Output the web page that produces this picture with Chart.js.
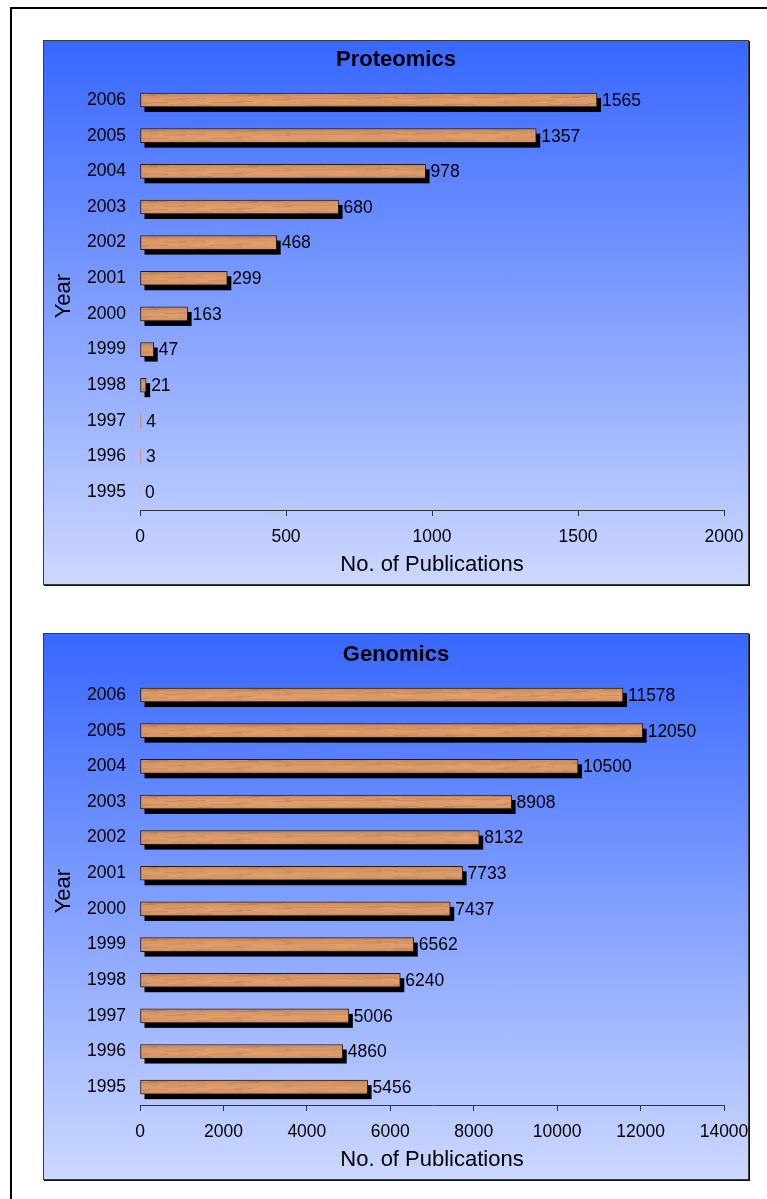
<!DOCTYPE html>
<html>
<head>
<meta charset="utf-8">
<script src="https://cdn.jsdelivr.net/npm/chart.js@4/dist/chart.umd.min.js"></script>
<style>
  html, body { margin: 0; padding: 0; background: #fff; width: 767px; height: 1199px; overflow: hidden; }
  #frame { position: absolute; left: 10px; top: 7px; width: 900px; height: 1300px; border: 2px solid #000; }
  .panel {
    position: absolute; left: 43px; width: 706px; box-sizing: border-box;
    border: 1px solid #3a3a3a; box-shadow: 1px 1px 0 #111;
    background: linear-gradient(to bottom, #3767ff 0%, #ccd8ff 100%);
  }
  .panel canvas { position: absolute; left: -1px; top: -1px; }
</style>
</head>
<body>
<div id="frame"></div>
<div class="panel" style="top:40px;height:545px"><canvas id="proteomics" width="706" height="545"></canvas></div>
<div class="panel" style="top:633px;height:547px"><canvas id="genomics" width="706" height="547"></canvas></div>

<script>
// Publication counts per year
const years = ['1995', '1996', '1997', '1998', '1999', '2000', '2001', '2002', '2003', '2004', '2005', '2006'];
const proteomicsCounts = [0, 3, 4, 21, 47, 163, 299, 468, 680, 978, 1357, 1565];
const genomicsCounts = [5456, 4860, 5006, 6240, 6562, 7437, 7733, 8132, 8908, 10500, 12050, 11578];

// Value axis ranges: [min, max, step]
const proteomicsAxis = [0, 2000, 500];
const genomicsAxis = [0, 14000, 2000];

const FONT = "'Liberation Sans', Arial, Helvetica, sans-serif";
Chart.defaults.font.family = FONT;
Chart.defaults.color = '#000';

// Wood-grain tile used to texture the bars
function buildWoodTile(w, h) {
  const c = document.createElement('canvas');
  c.width = w; c.height = h;
  const g = c.getContext('2d');
  const img = g.createImageData(w, h);
  for (let y = 0; y < h; y++) {
    const t = y / (h - 1);
    const shade = 1.04 - 0.16 * Math.pow(Math.abs(t - 0.42) * 1.9, 2);
    for (let x = 0; x < w; x++) {
      const grain = Math.sin(x * 0.045 + y * 0.9 + Math.sin(x * 0.013) * 3) * 0.5
                  + Math.sin(x * 0.11 + y * 2.3) * 0.3
                  + Math.sin(x * 0.0071 + y * 1.7) * 0.4;
      const streak = grain > 0.55 ? -0.12 : (grain < -0.6 ? 0.07 : 0);
      const f = shade * (1 + grain * 0.05 + streak);
      const i = (y * w + x) * 4;
      img.data[i] = Math.min(255, 214 * f);
      img.data[i + 1] = Math.min(255, 150 * f);
      img.data[i + 2] = Math.min(255, 102 * f);
      img.data[i + 3] = 255;
    }
  }
  g.putImageData(img, 0, 0);
  return c;
}
const woodTile = buildWoodTile(720, 16);

// Drop shadow behind each bar, wood texture on top, value to the right
const barDecor = {
  id: 'barDecor',
  beforeDatasetsDraw(chart) {
    const ctx = chart.ctx;
    const meta = chart.getDatasetMeta(0);
    ctx.save();
    ctx.fillStyle = '#000';
    meta.data.forEach(bar => {
      const { x, y, base, height } = bar.getProps(['x', 'y', 'base', 'height'], true);
      if (x - base < 3) return;
      ctx.fillRect(base + 4, y - height / 2 + 5, x - base, height);
    });
    ctx.restore();
  },
  afterDatasetsDraw(chart) {
    const ctx = chart.ctx;
    const meta = chart.getDatasetMeta(0);
    const values = chart.data.datasets[0].data;
    ctx.save();
    meta.data.forEach(bar => {
      const { x, y, base, height } = bar.getProps(['x', 'y', 'base', 'height'], true);
      const w = x - base - 2, h = height - 2;
      if (w > 0) {
        ctx.drawImage(woodTile, 0, 0, w, h, base + 1, y - height / 2 + 1, w, h);
      }
    });
    ctx.font = '17.5px ' + FONT;
    ctx.fillStyle = '#000';
    ctx.textAlign = 'left';
    ctx.textBaseline = 'middle';
    meta.data.forEach((bar, i) => {
      const { x, y } = bar.getProps(['x', 'y'], true);
      ctx.fillText(String(values[i]), x + 5, y + 1);
    });
    ctx.restore();
  }
};

function makeChart(id, title, counts, axis, opts) {
  return new Chart(document.getElementById(id), {
    type: 'bar',
    data: {
      labels: years,
      datasets: [{
        data: counts,
        backgroundColor: '#d4956a',
        borderColor: '#2b1a10',
        // very short bars are drawn without an outline
        borderWidth: c => (c.raw / axis[1] < 0.004 ? 0 : 1),
        borderSkipped: false,
        barThickness: 14
      }]
    },
    options: {
      indexAxis: 'y',
      responsive: false,
      animation: false,
      devicePixelRatio: 1,
      layout: { padding: 0 },
      plugins: {
        legend: { display: false },
        tooltip: { enabled: false },
        title: {
          display: true,
          text: title,
          color: '#000',
          font: { size: 22, weight: 'bold' },
          padding: { top: opts.titleTop, bottom: 8.8 }
        }
      },
      scales: {
        y: {
          reverse: true,
          offset: true,
          grid: { display: false, drawTicks: false },
          border: { display: false },
          ticks: { padding: 14, font: { size: 17.5 }, color: '#000' },
          title: { display: true, text: 'Year', color: '#000', font: { size: 22 }, padding: { top: 8, bottom: 0 } },
          afterFit(s) { s.width = 97; s.paddingTop = 0; s.paddingBottom = 0; }
        },
        x: {
          min: axis[0],
          max: axis[1],
          ticks: {
            stepSize: axis[2], padding: 11, font: { size: 17.5 }, color: '#000',
            maxRotation: 0, autoSkip: false,
            callback: v => String(v)
          },
          grid: { display: true, drawOnChartArea: false, drawTicks: true, tickLength: 6, color: '#333' },
          border: { display: true, color: '#333', width: 1 },
          title: { display: true, text: 'No. of Publications', color: '#000', font: { size: 22 }, padding: { top: 0, bottom: 7 } },
          // room on the right for the last tick label
          afterFit(s) { s.height = opts.xHeight; s.paddingLeft = 0; s.paddingRight = 25; }
        }
      }
    },
    plugins: [barDecor]
  });
}

makeChart('proteomics', 'Proteomics', proteomicsCounts, proteomicsAxis, { titleTop: 7, xHeight: 75 });
makeChart('genomics', 'Genomics', genomicsCounts, genomicsAxis, { titleTop: 9, xHeight: 75 });
</script>
</body>
</html>
